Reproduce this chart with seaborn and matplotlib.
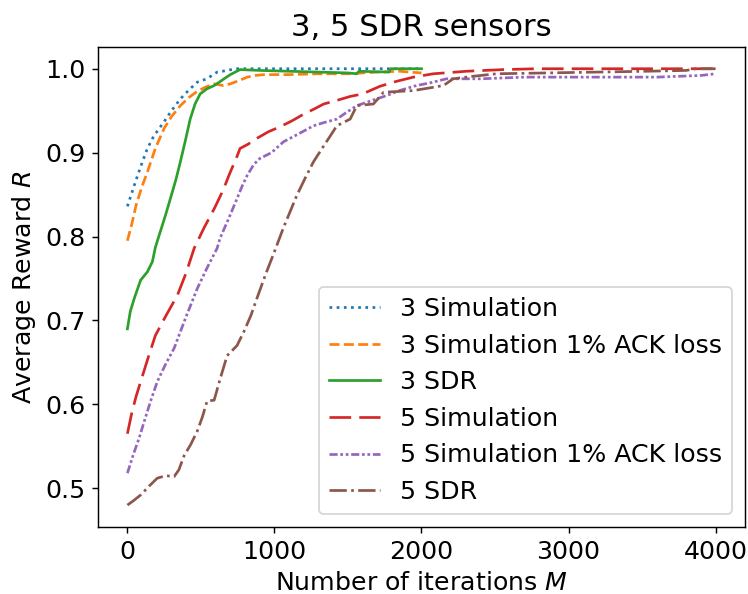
import numpy as np
import pandas as pd
import seaborn as sns
import matplotlib.pyplot as plt

# Datos
x_3sim = [0, 30, 60, 100, 136, 180, 250, 300, 360, 420, 475, 540, 610, 680, 735, 800, 2000]
y_3sim = [0.836, 0.852, 0.868, 0.888, 0.905, 0.920, 0.937, 0.950, 0.964, 0.975, 0.984, 0.988,
          0.996, 0.998, 1.0, 1.0, 1.0]

x_3ack = [0, 30, 60, 100, 136, 190, 250, 300, 360, 420, 475, 530, 590, 650, 700, 760, 815,
          870, 930, 1100, 1300, 1500, 1700, 1850, 2000]
y_3ack = [0.795, 0.815, 0.838, 0.860, 0.877, 0.905, 0.929, 0.943, 0.956, 0.966, 0.973, 0.978,
          0.982, 0.980, 0.982, 0.986, 0.990, 0.992, 0.993, 0.993, 0.994, 0.994, 0.996, 0.997, 0.995]

x_3sdr = [0, 20, 50, 90, 136, 170, 190, 224, 260, 292, 330, 360, 395, 427, 460, 495, 540, 590,
          625, 657, 700, 766, 900, 1100, 1300, 1500, 1559, 1575, 1780, 1790, 2000]
y_3sdr = [0.690, 0.711, 0.728, 0.748, 0.758, 0.770, 0.787, 0.806, 0.826, 0.845, 0.868, 0.889,
          0.915, 0.940, 0.958, 0.970, 0.976, 0.980, 0.984, 0.988, 0.993, 0.999, 0.998, 0.997,
          0.996, 0.995, 0.994, 0.997, 0.996, 1.0, 1.0]

x_5sim = [0, 30, 60, 90, 140, 190, 260, 340, 400, 454, 520, 590, 650, 700, 740, 766, 820, 880,
          960, 1040, 1120, 1200, 1270, 1335, 1420, 1515, 1600, 1716, 1830, 1945, 2080, 2305,
          2555, 2780, 3000, 4000]
y_5sim = [0.565, 0.590, 0.610, 0.627, 0.655, 0.682, 0.705, 0.730, 0.757, 0.786, 0.810, 0.833,
          0.855, 0.877, 0.893, 0.905, 0.910, 0.917, 0.925, 0.931, 0.938, 0.946, 0.952, 0.958,
          0.962, 0.967, 0.970, 0.979, 0.985, 0.990, 0.994, 0.997, 0.999, 1.0, 1.0, 1.0]

x_5ack = [0, 40, 80, 115, 160, 203, 260, 318, 400, 475, 540, 610, 630, 690, 745, 780, 815, 860,
          900, 980, 1062, 1160, 1265, 1340, 1424, 1490, 1560, 1660, 1762, 1850, 1966, 2055,
          2170, 2400, 2700, 3000, 3300, 3600, 3900, 4000]
y_5ack = [0.518, 0.540, 0.560, 0.580, 0.605, 0.627, 0.648, 0.667, 0.705, 0.738, 0.762, 0.786,
          0.798, 0.822, 0.845, 0.860, 0.873, 0.886, 0.893, 0.900, 0.913, 0.922, 0.932, 0.936,
          0.940, 0.948, 0.956, 0.962, 0.968, 0.974, 0.980, 0.983, 0.988, 0.988, 0.990, 0.990,
          0.990, 0.990, 0.992, 0.994]

x_5sdr = [0, 40, 90, 150, 203, 260, 318, 350, 386, 430, 475, 510, 542, 590, 630, 678, 745, 793,
          840, 880, 940, 1000, 1060, 1152, 1210, 1265, 1335, 1380, 1424, 1515, 1560, 1673, 1742,
          1850, 1945, 2050, 2150, 2215, 2350, 2510, 2850, 3190, 3525, 3800, 3865, 4000]
y_5sdr = [0.480, 0.485, 0.492, 0.503, 0.512, 0.515, 0.514, 0.522, 0.539, 0.552, 0.568, 0.585,
          0.604, 0.605, 0.630, 0.658, 0.670, 0.687, 0.706, 0.726, 0.755, 0.782, 0.810, 0.849,
          0.870, 0.889, 0.908, 0.920, 0.932, 0.940, 0.956, 0.958, 0.972, 0.973, 0.974, 0.977,
          0.980, 0.988, 0.991, 0.994, 0.995, 0.996, 0.997, 0.998, 1.0, 1.0]

etiquetas = ['3 Simulation', '3 Simulation 1% ACK loss', '3 SDR',
             '5 Simulation', '5 Simulation 1% ACK loss', '5 SDR']
series = [(x_3sim, y_3sim), (x_3ack, y_3ack), (x_3sdr, y_3sdr),
          (x_5sim, y_5sim), (x_5ack, y_5ack), (x_5sdr, y_5sdr)]
colores = sns.color_palette('tab10', 6)
estilos = [(0, (1, 1.65)), (0, (3.7, 1.6)), '-', (0, (8, 3)),
           (0, (3, 1, 1, 1, 1, 1)), (0, (6.4, 1.6, 1, 1.6))]

plt.rcParams['font.size'] = 14
fig, ax = plt.subplots(figsize=(748 / 130, 594 / 130), dpi=130)

for (xs, ys), lab, col, ls in zip(series, etiquetas, colores, estilos):
    sns.lineplot(x=xs, y=ys, ax=ax, color=col, linestyle=ls, label=lab,
                 estimator=None, linewidth=1.5)

ax.set_title('3, 5 SDR sensors', fontsize=17)
ax.set_xlabel('Number of iterations $M$')
ax.set_ylabel('Average Reward $R$')
ax.set_xticks([0, 1000, 2000, 3000, 4000])
ax.set_yticks([0.5, 0.6, 0.7, 0.8, 0.9, 1.0])
ax.legend(loc='lower right')

fig.subplots_adjust(left=0.131, right=0.996, top=0.921, bottom=0.113)
plt.savefig('out.png', dpi=130)
